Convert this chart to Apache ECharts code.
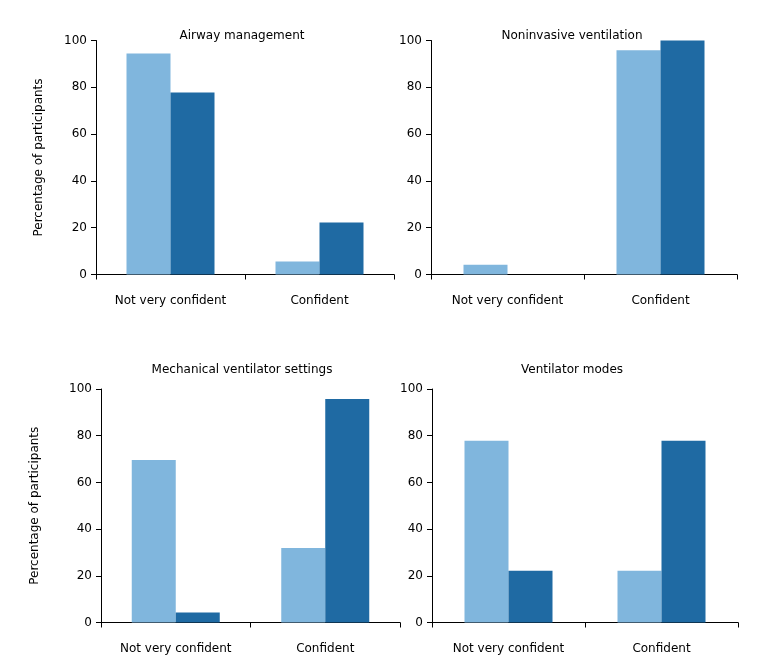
<!DOCTYPE html>
<html>
<head>
<meta charset="utf-8">
<script src="https://cdn.jsdelivr.net/npm/echarts@6/dist/echarts.min.js"></script>
<style>
html,body{margin:0;padding:0;background:#fff;}
#chart{width:764px;height:664px;}
</style>
</head>
<body>
<div id="chart"></div>
<script>
const categories = ['Not very confident', 'Confident'];
const panelTitles = ['Airway management', 'Noninvasive ventilation', 'Mechanical ventilator settings', 'Ventilator modes'];
const yTicks = [0, 20, 40, 60, 80, 100];
// light series (first bar of each pair)
const lightAirway = [94.4, 5.6];
const lightNIV = [4.2, 95.8];
const lightMech = [69.6, 31.9];
const lightModes = [77.8, 22.2];
// dark series (second bar of each pair)
const darkAirway = [77.8, 22.2];
const darkNIV = [0, 100];
const darkMech = [4.3, 95.7];
const darkModes = [22.2, 77.8];

const lightData = [lightAirway, lightNIV, lightMech, lightModes];
const darkData = [darkAirway, darkNIV, darkMech, darkModes];

const LIGHT = '#80b6dd';
const DARK = '#1f6aa3';
const FONT = 'DejaVu Sans';
const TXT = '#000';

const grids = [
  {left: 96, top: 40.5, width: 298, height: 234},
  {left: 431, top: 40.5, width: 306, height: 234},
  {left: 101, top: 389, width: 299, height: 233.5},
  {left: 432, top: 389, width: 306, height: 233.5}
];
const titlePos = [[237, 25], [567, 25], [237, 359], [567, 359]];
const nameGaps = [51, null, 60, null];

const chart = echarts.init(document.getElementById('chart'), null, {renderer: 'canvas'});

const option = {
  animation: false,
  backgroundColor: '#fff',
  title: panelTitles.map((t, i) => ({
    text: t,
    left: titlePos[i][0],
    top: titlePos[i][1],
    textAlign: 'center',
    textStyle: {fontFamily: FONT, fontSize: 12, fontWeight: 'normal', color: TXT}
  })),
  grid: grids.map(g => Object.assign({containLabel: false}, g)),
  xAxis: grids.map((g, i) => ({
    type: 'category',
    gridIndex: i,
    data: categories,
    axisLine: {lineStyle: {color: '#000', width: 1}},
    axisTick: {show: true, length: 5, lineStyle: {color: '#000'}},
    axisLabel: {fontFamily: FONT, fontSize: 12, color: TXT, margin: 20},
    splitLine: {show: false}
  })),
  yAxis: grids.map((g, i) => ({
    type: 'value',
    gridIndex: i,
    min: yTicks[0],
    max: yTicks[yTicks.length - 1],
    interval: yTicks[1] - yTicks[0],
    name: nameGaps[i] ? 'Percentage of participants' : '',
    nameLocation: 'middle',
    nameGap: nameGaps[i] || 0,
    nameTextStyle: {fontFamily: FONT, fontSize: 12, color: TXT},
    axisLine: {show: true, lineStyle: {color: '#000', width: 1}},
    axisTick: {show: true, length: 5, lineStyle: {color: '#000'}},
    axisLabel: {fontFamily: FONT, fontSize: 12, color: TXT, margin: 9},
    splitLine: {show: false}
  })),
  series: [].concat(
    lightData.map((d, i) => ({
      type: 'bar', xAxisIndex: i, yAxisIndex: i, data: d,
      barWidth: 44, barGap: '0%',
      itemStyle: {color: LIGHT}
    })),
    darkData.map((d, i) => ({
      type: 'bar', xAxisIndex: i, yAxisIndex: i, data: d,
      barWidth: 44, barGap: '0%',
      itemStyle: {color: DARK}
    }))
  )
};
chart.setOption(option);
</script>
</body>
</html>
